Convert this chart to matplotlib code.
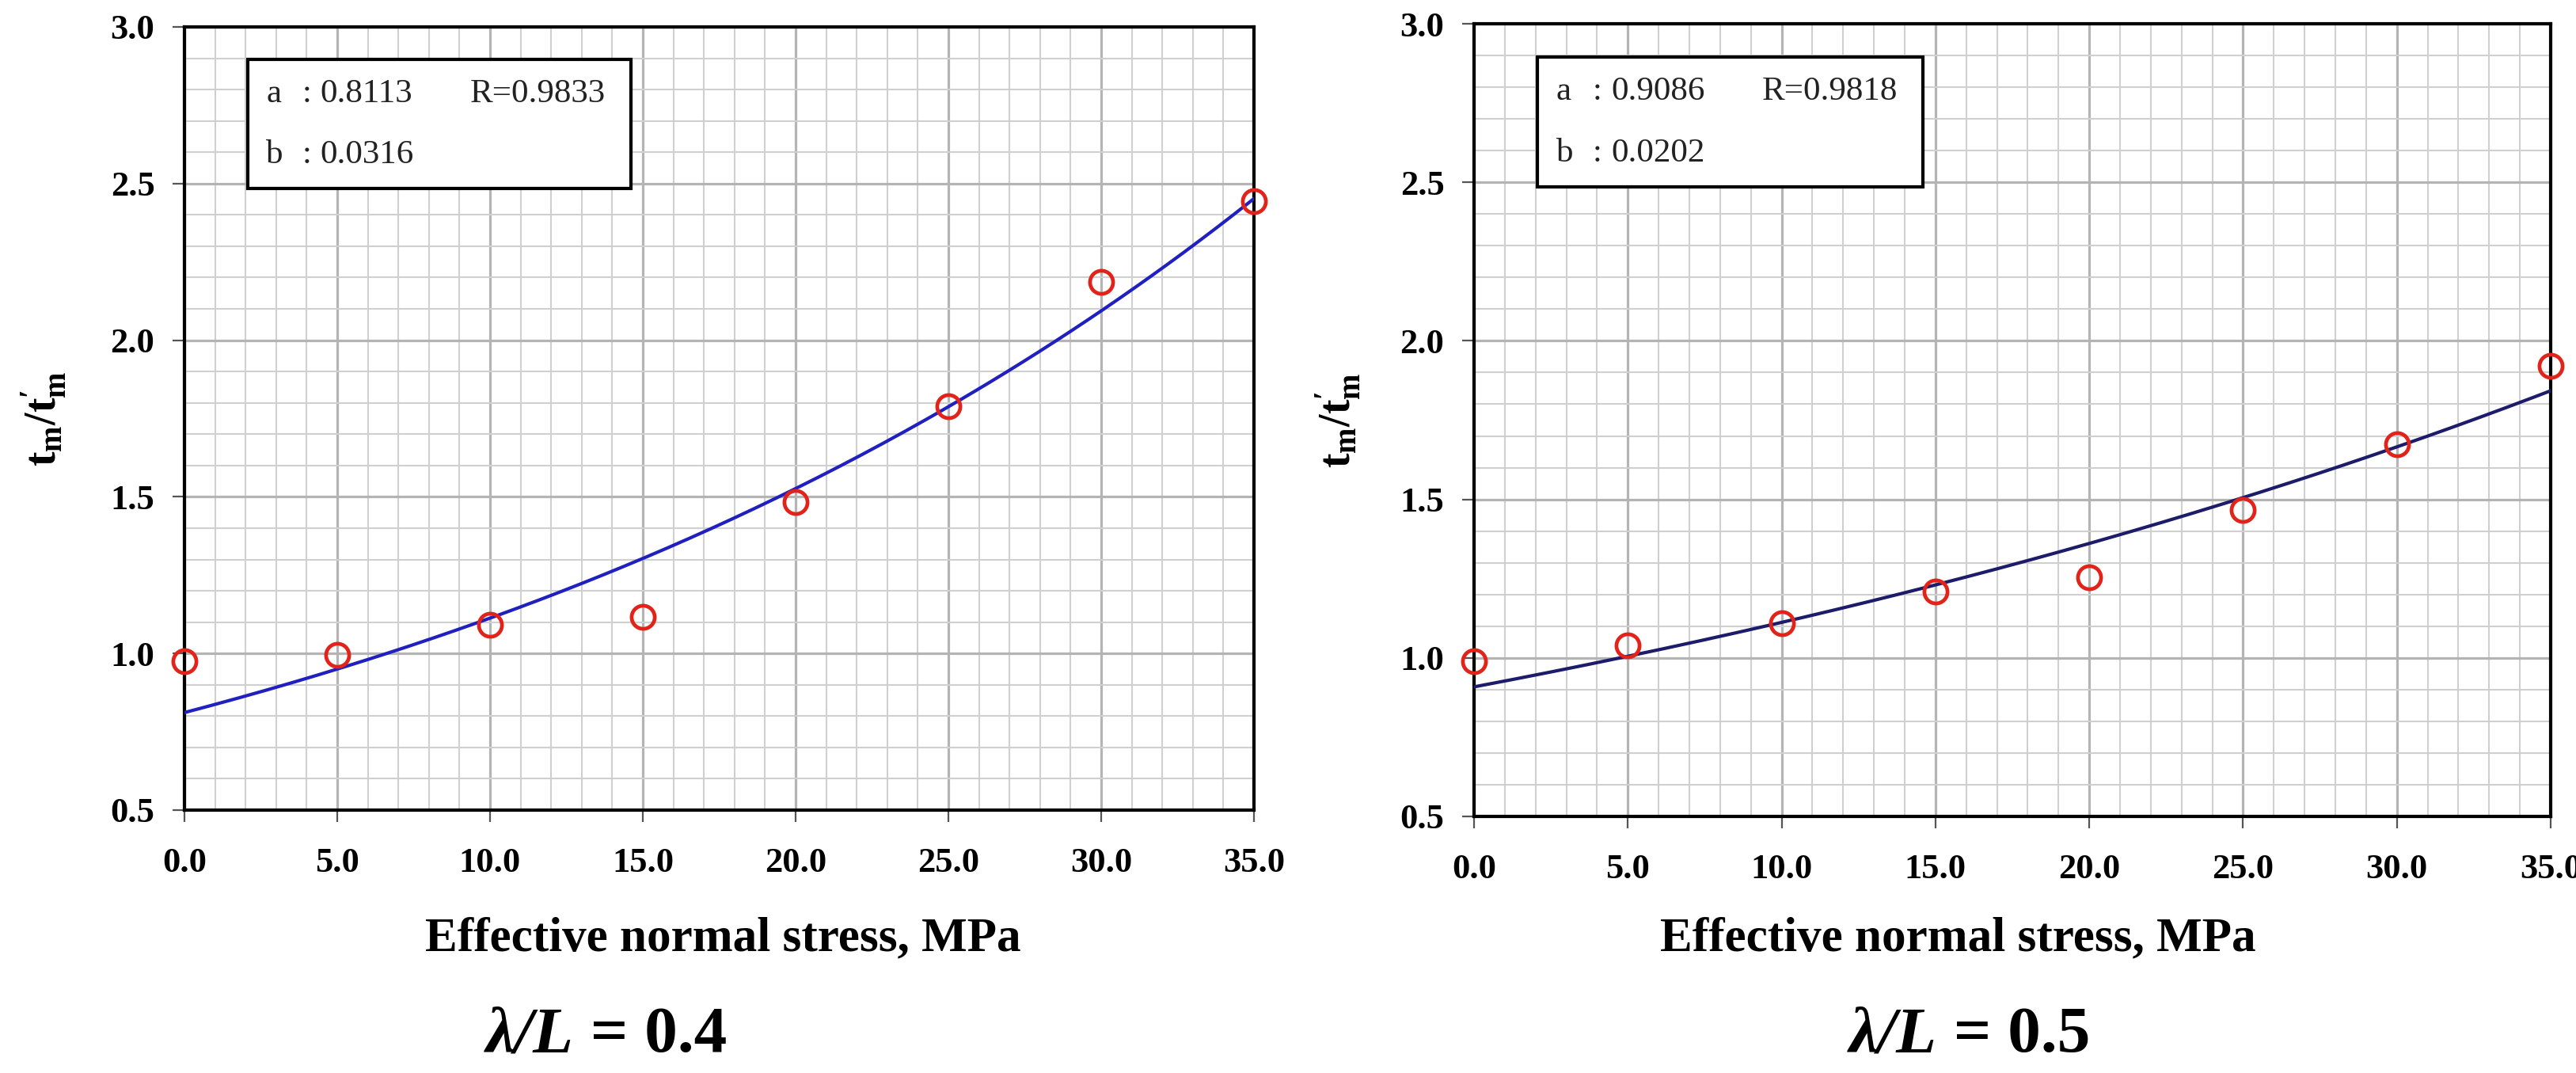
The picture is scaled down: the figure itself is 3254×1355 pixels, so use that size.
import numpy as np
import matplotlib
matplotlib.use("Agg")
import matplotlib.pyplot as plt
from matplotlib.patches import Rectangle

plt.rcParams['font.family'] = ['Liberation Serif', 'DejaVu Serif']
plt.rcParams['mathtext.fontset'] = 'custom'
plt.rcParams['mathtext.rm'] = 'Liberation Serif:bold'
plt.rcParams['mathtext.it'] = 'Liberation Serif:bold'
plt.rcParams['mathtext.bf'] = 'Liberation Serif:bold'

# data
stress = [0, 5, 10, 15, 20, 25, 30, 35]
ratio_04 = [0.975, 0.996, 1.092, 1.116, 1.483, 1.79, 2.186, 2.444]
ratio_05 = [0.99, 1.04, 1.11, 1.21, 1.255, 1.467, 1.675, 1.92]

# fit parameters shown in the boxes: y = a * exp(b * x)
fit_a = [0.8113, 0.9086]
fit_b = [0.0316, 0.0202]
fit_r = [0.9833, 0.9818]
panel_names = ["0.4", "0.5"]
curve_colors = ['#2020c0', '#1c1c6a']

W, H = 3255, 1355
fig = plt.figure(figsize=(W / 100, H / 100), dpi=100)

axes_px = [(233, 1584, 34, 1023), (1862, 3222, 30, 1031)]
ylabel_x = [55, 1690]
xlabel_x = [913, 2473]
lam_split = [725, 2447]


def make_panel(i, ys):
    l, r, t, b = axes_px[i]
    ax = fig.add_axes([l / W, 1 - b / H, (r - l) / W, (b - t) / H])
    ax.set_xlim(0, 35)
    ax.set_ylim(0.5, 3.0)
    ax.set_xticks(np.arange(0, 36, 5))
    ax.set_xticks(np.arange(0, 36, 1), minor=True)
    ax.set_yticks(np.arange(0.5, 3.01, 0.5))
    ax.set_yticks(np.arange(0.5, 3.01, 0.1), minor=True)
    ax.set_xticklabels(["%.1f" % v for v in np.arange(0, 36, 5)])
    ax.set_yticklabels(["%.1f" % v for v in np.arange(0.5, 3.01, 0.5)])
    ax.grid(which='minor', color='#d0d0d0', lw=1.5)
    ax.grid(which='major', color='#b4b4b4', lw=2.3)
    ax.set_axisbelow(True)
    for s in ax.spines.values():
        s.set_linewidth(3)
        s.set_color('black')
    ax.tick_params(which='minor', length=0)
    ax.tick_params(axis='both', which='major', direction='out', length=11,
                   width=1.6, color='#555555', labelsize=32)
    ax.tick_params(axis='x', pad=23)
    ax.tick_params(axis='y', pad=16)
    for lab in ax.get_xticklabels() + ax.get_yticklabels():
        lab.set_fontweight('bold')

    xs = np.linspace(0, 35, 200)
    ax.plot(xs, fit_a[i] * np.exp(fit_b[i] * xs), color=curve_colors[i], lw=3.0, zorder=4)
    ax.plot(stress, ys, 'o', ms=21, mfc='none', mec='#e2231a', mew=3.4,
            clip_on=False, zorder=5)

    box = Rectangle((2.07, 2.485), 14.6 - 2.07, 2.896 - 2.485, facecolor='white',
                    edgecolor='black', lw=3, zorder=3)
    ax.add_patch(box)
    fs = 31
    tc = '#222222'
    ax.text(2.67, 2.786, "a", fontsize=fs, va='center', color=tc, zorder=6)
    ax.text(3.85, 2.786, ":", fontsize=fs, va='center', color=tc, zorder=6)
    ax.text(4.45, 2.786, "%.4f" % fit_a[i], fontsize=fs, va='center', color=tc, zorder=6)
    ax.text(9.35, 2.786, "R=%.4f" % fit_r[i], fontsize=fs, va='center', color=tc, zorder=6)
    ax.text(2.67, 2.59, "b", fontsize=fs, va='center', color=tc, zorder=6)
    ax.text(3.85, 2.59, ":", fontsize=fs, va='center', color=tc, zorder=6)
    ax.text(4.45, 2.59, "%.4f" % fit_b[i], fontsize=fs, va='center', color=tc, zorder=6)

    # axis labels
    fig.text(ylabel_x[i] / W, 1 - (t + b) / 2 / H, r"$\mathrm{t_m/t_m^{\prime}}$",
             rotation=90, fontsize=40, ha='center', va='center')
    fig.text(xlabel_x[i] / W, 1 - 1185 / H, "Effective normal stress, MPa",
             fontsize=44, fontweight='bold', ha='center', va='center')
    # panel caption
    fig.text(lam_split[i] / W, 1 - 1328 / H, "λ/L", fontsize=60,
             fontweight='bold', fontstyle='italic', ha='right', va='baseline')
    fig.text(lam_split[i] / W, 1 - 1328 / H, " = " + panel_names[i], fontsize=60,
             fontweight='bold', ha='left', va='baseline')
    return ax


make_panel(0, ratio_04)
make_panel(1, ratio_05)

fig.savefig("out.png", dpi=100, facecolor='white')
